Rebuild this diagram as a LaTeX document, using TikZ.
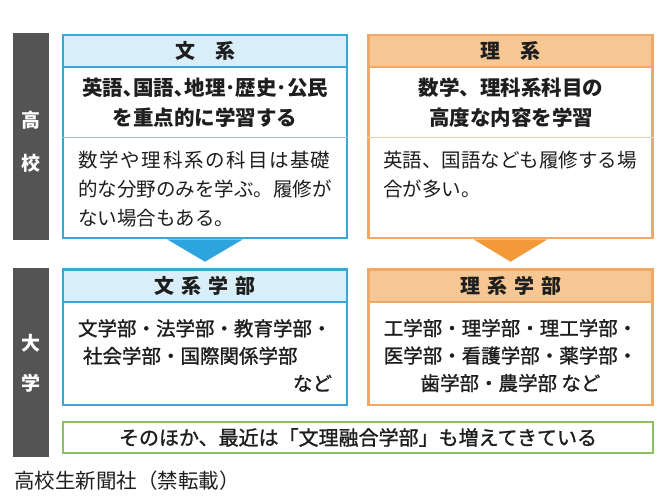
\documentclass[tikz,border=0pt]{standalone}
\usepackage{fontspec}
\setmainfont{Noto Sans CJK JP}
\newfontfamily\medfont{Noto Sans CJK JP}[FakeBold=1.2]
\usepackage{tikz}
\usetikzlibrary{positioning}

\definecolor{bunblue}{HTML}{3AA6D6}
\definecolor{bunpale}{HTML}{D8EEF9}
\definecolor{bunarrow}{HTML}{2DA4DE}
\definecolor{riorange}{HTML}{EFA865}
\definecolor{ripale}{HTML}{F7C793}
\definecolor{riarrow}{HTML}{F29A3A}
\definecolor{misgreen}{HTML}{8DC065}
\definecolor{bardark}{HTML}{545454}
\definecolor{ink}{HTML}{1E1E1E}

\begin{document}
\begin{tikzpicture}[x=1pt, y=-1pt,
    frame/.style = {draw, line width=2.6pt, fill=white, minimum width=284pt, inner sep=0pt},
    head/.style = {draw, line width=2.6pt, minimum width=284pt, minimum height=32pt, inner sep=0pt,
        text=ink, font=\fontsize{20}{24}\selectfont\bfseries},
    bar/.style = {fill=bardark, minimum width=36pt, inner sep=0pt},
    barlabel/.style = {text=white, font=\fontsize{19}{22}\selectfont\bfseries},
    boldtext/.style = {text=ink, align=center, inner sep=0pt, font=\fontsize{20.5}{30}\selectfont\bfseries},
    bodytext/.style = {text=ink, align=left, inner sep=0pt, font=\fontsize{19.5}{29}\selectfont},
    facultytext/.style = {text=ink, inner sep=0pt, font=\fontsize{19.5}{27.5}\selectfont\medfont}]
    \useasboundingbox (0,0) rectangle (668,501);

    % side bars
    \node[bar, minimum height=207pt] (koko) at (31,136.5) {};
    \node[bar, minimum height=189pt] (daigaku) at (31,362.5) {};
    \node[barlabel] (kokoA) at (31,120) {高};
    \node[barlabel] (kokoB) at (31,163) {校};
    \node[barlabel] (daiA) at (31,343) {大};
    \node[barlabel] (daiB) at (31,383) {学};

    % high school boxes
    \node[frame, draw=bunblue, minimum height=203pt] (bunkei) at (205,136.5) {};
    \node[head, draw=bunblue, fill=bunpale] (bunkeiHead) at (205,51) {文\hspace{1em}系};
    \draw[bunblue!55!gray!60, line width=0.6pt] (bunkei.west |- 0,137) -- (bunkei.east |- 0,137);
    \node[boldtext] (bunkeiMain) at (205,103) {英語､国語､地理･歴史･公民\\を重点的に学習する};
    \node[bodytext, anchor=west] (bunkeiNote) at (78,189)
        {{\addfontfeature{LetterSpace=9}数学や理科系の科目は基}礎\\的な分野のみを学ぶ。履修が\\ない場合もある。};

    \node[frame, draw=riorange, minimum height=203pt] (rikei) at (510.5,136.5) {};
    \node[head, draw=riorange, fill=ripale] (rikeiHead) at (510.5,51) {理\hspace{1em}系};
    \draw[riorange!60, line width=0.6pt] (rikei.west |- 0,137) -- (rikei.east |- 0,137);
    \node[boldtext] (rikeiMain) at (511,103) {数学、理科系科目の\\高度な内容を学習};
    \node[bodytext, anchor=west] (rikeiNote) at (383,175)
        {英語、国語なども履修する場\\合が多い。};

    % university boxes
    \node[frame, draw=bunblue, minimum height=136pt] (bunGaku) at (205,337) {};
    \node[head, draw=bunblue, fill=bunpale] (bunGakuHead) at (205,286) {文\hspace{.35em}系\hspace{.35em}学\hspace{.35em}部};
    \node[facultytext, align=left, text width=254pt] (bunGakuList) at (205,355.5)
        {文学部・法学部・教育学部・\\\hspace{5pt}社会学部・国際関係学部\\\hfill など};

    \node[frame, draw=riorange, minimum height=136pt] (riGaku) at (510.5,337) {};
    \node[head, draw=riorange, fill=ripale] (riGakuHead) at (510.5,286) {理\hspace{.35em}系\hspace{.35em}学\hspace{.35em}部};
    \node[facultytext, align=center] (riGakuList) at (510.5,355.5)
        {工学部・理学部・理工学部・\\医学部・看護学部・薬学部・\\歯学部・農学部 など};

    % arrows between the stages
    \fill[bunarrow] ([xshift=-38pt]bunkei.south) -- ([xshift=38pt]bunkei.south)
        -- ([yshift=6pt]bunGaku.north) -- cycle;
    \fill[riarrow] ([xshift=-37pt]rikei.south) -- ([xshift=37pt]rikei.south)
        -- ([yshift=6pt]riGaku.north) -- cycle;

    % note box
    \node[draw=misgreen, line width=2.6pt, fill=white, minimum width=590pt, minimum height=31pt,
        inner sep=0pt, text=ink, font=\fontsize{20}{24}\selectfont\medfont] (others) at (358,437.5)
        {そのほか、最近は「文理融合学部」も増えてきている};

    \node[anchor=west, inner sep=0pt, text=ink, font=\fontsize{20.5}{24}\selectfont] (credit) at (14,481)
        {高校生新聞社（禁転載）};
\end{tikzpicture}
\end{document}
